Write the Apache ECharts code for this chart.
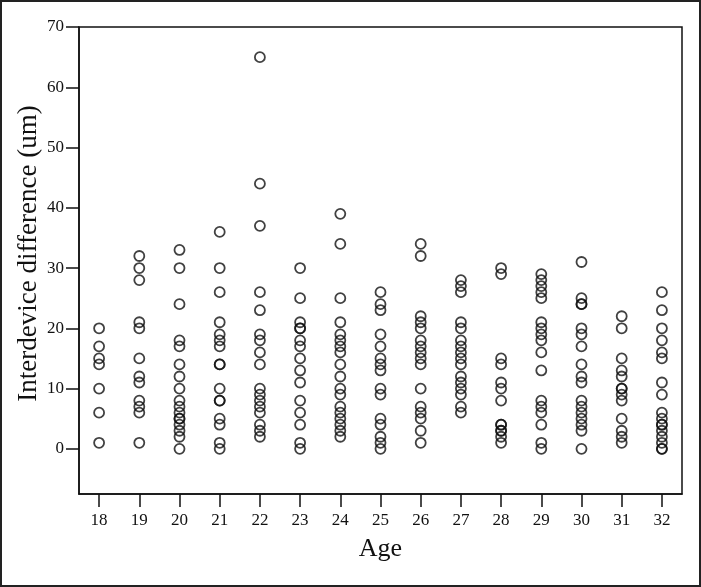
<!DOCTYPE html>
<html>
<head>
<meta charset="utf-8">
<script src="https://cdn.jsdelivr.net/npm/echarts@6/dist/echarts.min.js"></script>
<style>
  html, body { margin: 0; padding: 0; background: #fff; }
  #main { width: 701px; height: 587px; }
</style>
</head>
<body>
<div id="main"></div>
<script>
  // ages on the x axis
  var ages = ['18', '19', '20', '21', '22', '23', '24', '25', '26', '27', '28', '29', '30', '31', '32']

  // interdevice difference (um) read per age
  var age18 = [20, 17, 15, 14, 10, 6, 1]
  var age19 = [32, 30, 28, 21, 20, 15, 12, 11, 8, 7, 6, 1]
  var age20 = [33, 30, 24, 18, 17, 14, 12, 10, 8, 7, 6, 5, 5, 4, 3, 2, 0]
  var age21 = [36, 30, 26, 21, 19, 18, 17, 14, 14, 10, 8, 8, 5, 4, 1, 0]
  var age22 = [65, 44, 37, 26, 23, 19, 18, 16, 14, 10, 9, 8, 7, 6, 4, 3, 2]
  var age23 = [30, 25, 21, 20, 20, 18, 17, 15, 13, 11, 8, 6, 4, 1, 0]
  var age24 = [39, 34, 25, 21, 19, 18, 17, 16, 14, 12, 10, 9, 7, 6, 5, 4, 3, 2]
  var age25 = [26, 24, 23, 19, 17, 15, 14, 13, 10, 9, 5, 4, 2, 1, 0]
  var age26 = [34, 32, 22, 21, 20, 18, 17, 16, 15, 14, 10, 7, 6, 5, 3, 1]
  var age27 = [28, 27, 26, 21, 20, 18, 17, 16, 15, 14, 12, 11, 10, 9, 7, 6]
  var age28 = [30, 29, 15, 14, 11, 10, 8, 4, 4, 3, 3, 2, 1]
  var age29 = [29, 28, 27, 26, 25, 21, 20, 19, 18, 16, 13, 8, 7, 6, 4, 1, 0]
  var age30 = [31, 25, 24, 24, 20, 19, 17, 14, 12, 11, 8, 7, 6, 5, 4, 3, 0]
  var age31 = [22, 20, 15, 13, 12, 10, 10, 9, 8, 5, 3, 2, 1]
  var age32 = [26, 23, 20, 18, 16, 15, 11, 9, 6, 5, 4, 4, 3, 2, 1, 0, 0]

  var yTicks = [0, 10, 20, 30, 40, 50, 60, 70]

  var columns = [age18, age19, age20, age21, age22, age23, age24, age25,
    age26, age27, age28, age29, age30, age31, age32]
  var points = []
  columns.forEach(function (vals, i) {
    vals.forEach(function (v) { points.push([ages[i], v]) })
  })

  var serif = '"Liberation Serif", "DejaVu Serif", serif'

  var myecharts = echarts.init(document.getElementById('main'))
  myecharts.setOption({
    backgroundColor: '#fff',
    animation: false,
    graphic: [{
      type: 'rect',
      shape: { x: 1, y: 1, width: 699, height: 585 },
      style: { fill: 'none', stroke: '#222', lineWidth: 2 },
      silent: true
    }],
    grid: {
      left: 79,
      right: 19,
      top: 27,
      bottom: 93,
      show: true,
      borderColor: '#111',
      borderWidth: 1.5,
      backgroundColor: 'transparent'
    },
    xAxis: {
      type: 'category',
      data: ages,
      boundaryGap: true,
      name: 'Age',
      nameLocation: 'middle',
      nameGap: 42,
      nameMoveOverlap: false,
      nameTextStyle: { fontFamily: serif, fontSize: 26, color: '#111' },
      axisLine: { show: true, onZero: false, lineStyle: { color: '#111', width: 1.5 } },
      axisTick: { show: true, inside: false, alignWithLabel: true, interval: 0, length: 13, lineStyle: { color: '#111', width: 1.5 } },
      axisLabel: { fontFamily: serif, fontSize: 17, color: '#111', margin: 18, interval: 0 },
      splitLine: { show: false }
    },
    yAxis: {
      type: 'value',
      min: -7.5,
      max: 70,
      name: 'Interdevice difference (um)',
      nameLocation: 'middle',
      nameGap: 37,
      nameMoveOverlap: false,
      nameTextStyle: { fontFamily: serif, fontSize: 27, color: '#111', padding: [0, 0, 0, 14] },
      axisLine: { show: true, onZero: false, lineStyle: { color: '#111', width: 1.5 } },
      axisTick: { show: true, length: 13, customValues: yTicks, lineStyle: { color: '#111', width: 1.5 } },
      axisLabel: { fontFamily: serif, fontSize: 17, color: '#111', margin: 15, customValues: yTicks },
      splitLine: { show: false }
    },
    series: [{
      type: 'scatter',
      data: points,
      symbol: 'circle',
      symbolSize: 10,
      itemStyle: { color: 'transparent', borderColor: '#111', borderWidth: 1.8 }
    }]
  })
</script>
</body>
</html>
